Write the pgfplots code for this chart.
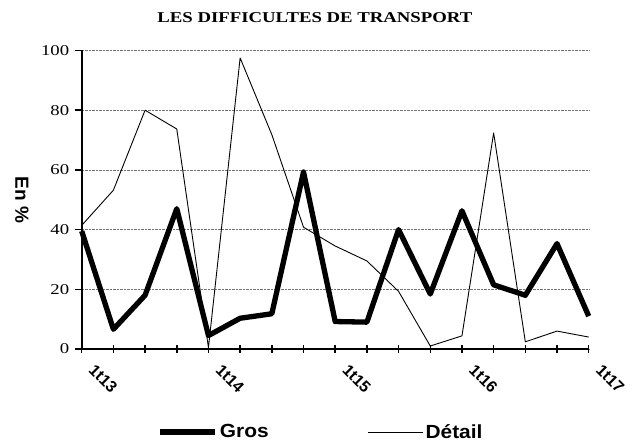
\documentclass[border=0pt]{standalone}
\usepackage{pgfplots}
\pgfplotsset{compat=1.18}
\usepackage{fontspec}
\setmainfont{Liberation Serif}
\newfontfamily\serifwide[FakeStretch=1.25]{Liberation Serif}
\newfontfamily\arial{Liberation Sans}
\newfontfamily\arialwide[FakeStretch=1.1]{Liberation Sans}
\begin{document}
\begin{tikzpicture}[x=1pt,y=1pt]
\useasboundingbox (0,0) rectangle (636,443);
\begin{axis}[
  at={(81.7pt,94pt)}, anchor=south west,
  scale only axis, width=507pt, height=298.5pt,
  xmin=0, xmax=16, ymin=0, ymax=100,
  axis lines=left,
  axis line style={-, line width=1.8pt},
  xtick={0,4,8,12,16},
  minor xtick={1,2,3,5,6,7,9,10,11,13,14,15},
  xticklabels={1t13,1t14,1t15,1t16,1t17},
  ytick={0,20,40,60,80,100},
  /pgf/number format/assume math mode=true,
  tick align=center,
  major tick length=7.5pt,
  minor tick length=7.5pt,
  tick style={line width=1.5pt, black},
  ytick style={xshift=-3.2pt},
  ymajorgrids,
  grid style={densely dotted, black!55, line width=0.7pt},
  y tick label style={font=\fontsize{15}{15}\selectfont\serifwide, anchor=east, inner sep=0pt, xshift=-8.5pt},
  x tick label style={font=\fontsize{16}{16}\selectfont\arial\bfseries, anchor=center, inner sep=0pt, xshift=21.5pt, yshift=-26pt, rotate=-45},
  title={LES DIFFICULTES DE TRANSPORT},
  every axis title/.style={at={(axis description cs:0.46,1.109)}, anchor=center, font=\fontsize{15}{15}\selectfont\serifwide\bfseries},
  ylabel={En \%},
  every axis y label/.style={at={(axis description cs:-0.118,0.499)}, anchor=center, rotate=-90, font=\fontsize{19}{19}\selectfont\arial\bfseries},
  legend columns=2,
  legend style={at={(axis description cs:0.472,-0.278)}, anchor=center, draw=none, fill=none,
    font=\fontsize{19}{19}\selectfont\arialwide\bfseries,
    /tikz/every even column/.append style={column sep=97pt}},
  legend image code/.code={\draw[#1] (0pt,0pt) -- (55pt,0pt);},
  clip=false,
]
\addplot[black, line width=5.3pt, line join=round] coordinates {
(0,39.5) (1,6.6) (2,18) (3,47) (4,4.5) (5,10.3) (6,11.8) (7,59.3) (8,9.2)
(9,9) (10,40) (11,18.4) (12,46.3) (13,21.5) (14,18) (15,35.3) (16,11)};
\addlegendentry{Gros}
\addplot[black, line width=0.9pt, line join=round] coordinates {
(0,41.4) (1,53.2) (2,80) (3,73.7) (4,0.5) (5,97.5) (6,71.8) (7,40.8) (8,34.5)
(9,29.5) (10,19.3) (11,1) (12,4.4) (13,72.4) (14,2.4) (15,6) (16,4)};
\addlegendentry{Détail}
\end{axis}
\end{tikzpicture}
\end{document}
